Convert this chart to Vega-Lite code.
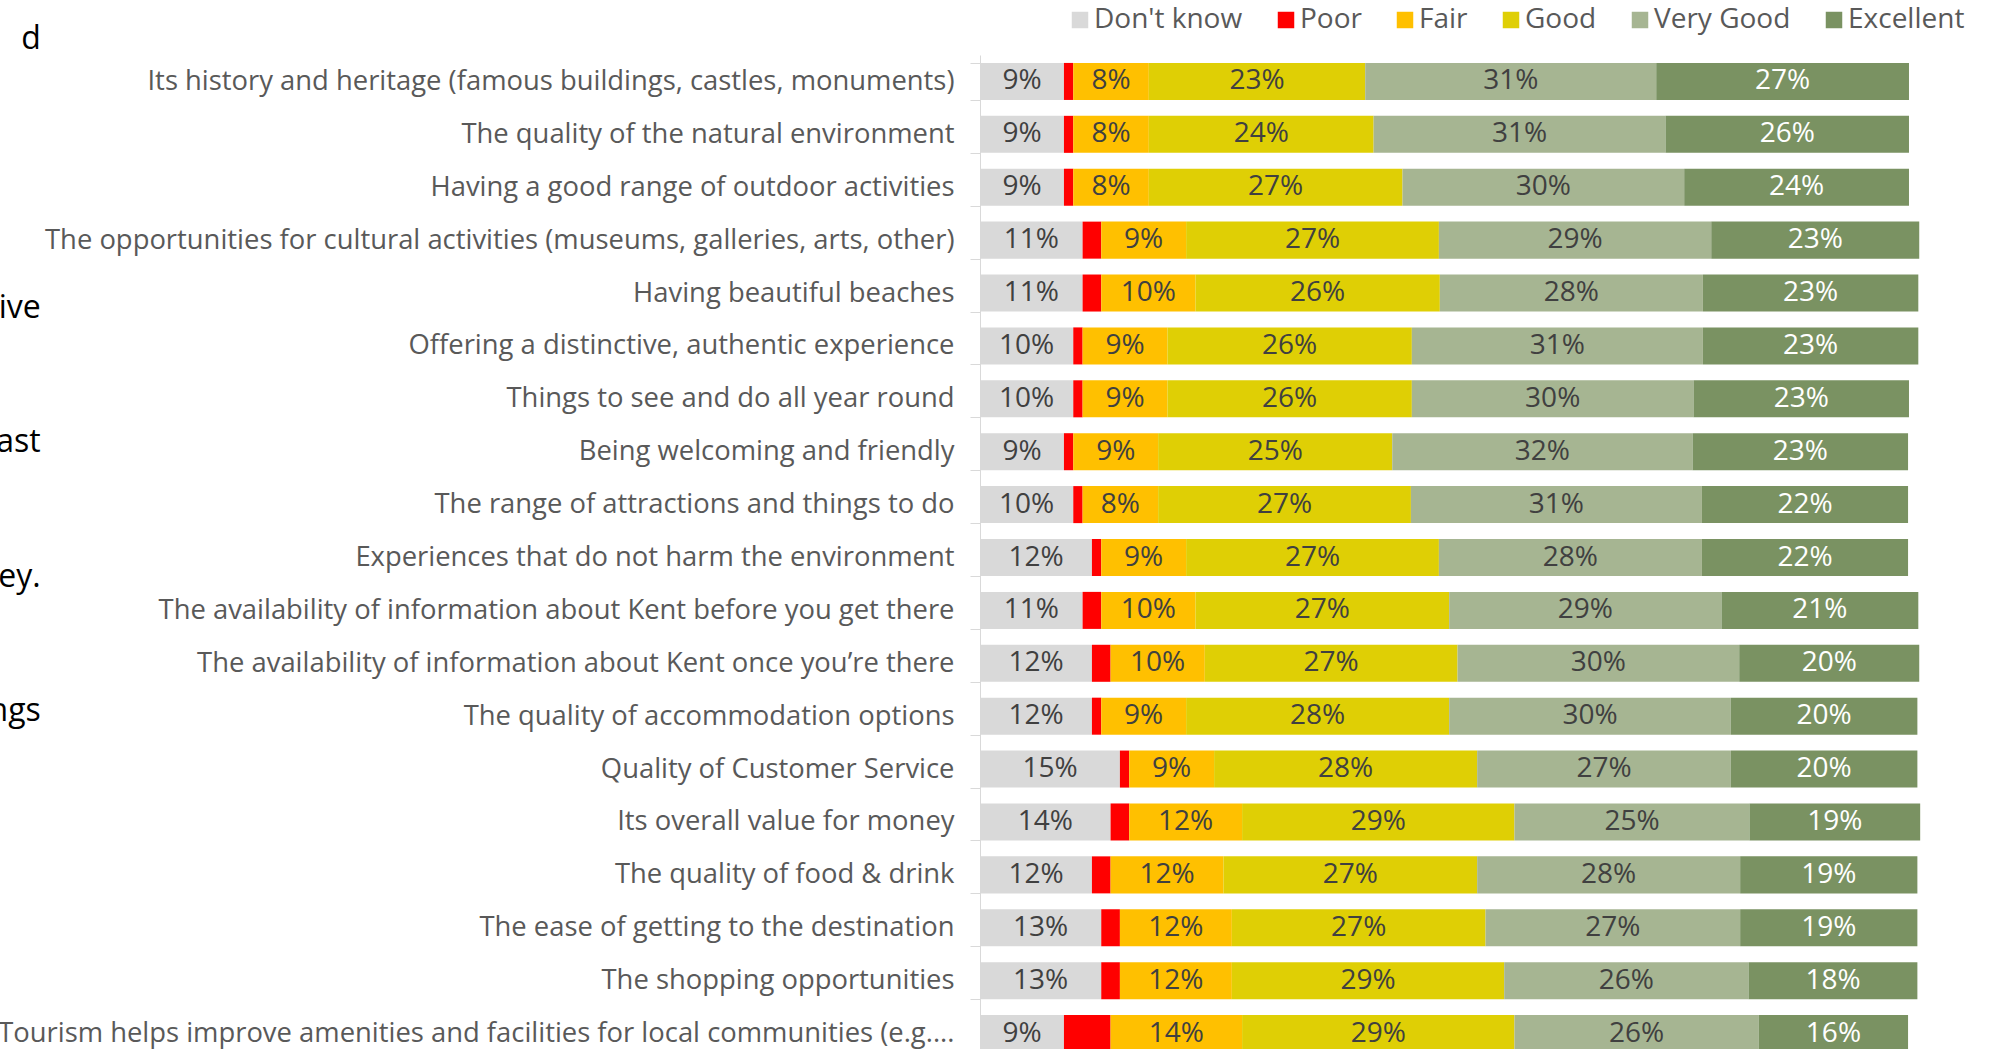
{
  "$schema": "https://vega.github.io/schema/vega-lite/v6.json",
  "width": 1012,
  "height": 1005,
  "autosize": {"type": "none"},
  "padding": {"left": 980, "top": 55, "right": 0, "bottom": 0},
  "background": "white",
  "config": {"view": {"stroke": null}, "font": "Open Sans"},
  "datasets": {
    "main": [
      {"c": "Its history and heritage (famous buildings, castles, monuments)", "r": "Don't know", "v": 9.0, "l": "9%"},
      {"c": "Its history and heritage (famous buildings, castles, monuments)", "r": "Poor", "v": 1.0, "l": "1%"},
      {"c": "Its history and heritage (famous buildings, castles, monuments)", "r": "Fair", "v": 8.1, "l": "8%"},
      {"c": "Its history and heritage (famous buildings, castles, monuments)", "r": "Good", "v": 23.2, "l": "23%"},
      {"c": "Its history and heritage (famous buildings, castles, monuments)", "r": "Very Good", "v": 31.2, "l": "31%"},
      {"c": "Its history and heritage (famous buildings, castles, monuments)", "r": "Excellent", "v": 27.1, "l": "27%"},
      {"c": "The quality of the natural environment", "r": "Don't know", "v": 9.0, "l": "9%"},
      {"c": "The quality of the natural environment", "r": "Poor", "v": 1.0, "l": "1%"},
      {"c": "The quality of the natural environment", "r": "Fair", "v": 8.1, "l": "8%"},
      {"c": "The quality of the natural environment", "r": "Good", "v": 24.1, "l": "24%"},
      {"c": "The quality of the natural environment", "r": "Very Good", "v": 31.3, "l": "31%"},
      {"c": "The quality of the natural environment", "r": "Excellent", "v": 26.1, "l": "26%"},
      {"c": "Having a good range of outdoor activities", "r": "Don't know", "v": 9.0, "l": "9%"},
      {"c": "Having a good range of outdoor activities", "r": "Poor", "v": 1.0, "l": "1%"},
      {"c": "Having a good range of outdoor activities", "r": "Fair", "v": 8.1, "l": "8%"},
      {"c": "Having a good range of outdoor activities", "r": "Good", "v": 27.2, "l": "27%"},
      {"c": "Having a good range of outdoor activities", "r": "Very Good", "v": 30.2, "l": "30%"},
      {"c": "Having a good range of outdoor activities", "r": "Excellent", "v": 24.1, "l": "24%"},
      {"c": "The opportunities for cultural activities (museums, galleries, arts, other)", "r": "Don't know", "v": 11.0, "l": "11%"},
      {"c": "The opportunities for cultural activities (museums, galleries, arts, other)", "r": "Poor", "v": 2.0, "l": "2%"},
      {"c": "The opportunities for cultural activities (museums, galleries, arts, other)", "r": "Fair", "v": 9.1, "l": "9%"},
      {"c": "The opportunities for cultural activities (museums, galleries, arts, other)", "r": "Good", "v": 27.1, "l": "27%"},
      {"c": "The opportunities for cultural activities (museums, galleries, arts, other)", "r": "Very Good", "v": 29.2, "l": "29%"},
      {"c": "The opportunities for cultural activities (museums, galleries, arts, other)", "r": "Excellent", "v": 22.3, "l": "23%"},
      {"c": "Having beautiful beaches", "r": "Don't know", "v": 11.0, "l": "11%"},
      {"c": "Having beautiful beaches", "r": "Poor", "v": 2.0, "l": "2%"},
      {"c": "Having beautiful beaches", "r": "Fair", "v": 10.1, "l": "10%"},
      {"c": "Having beautiful beaches", "r": "Good", "v": 26.2, "l": "26%"},
      {"c": "Having beautiful beaches", "r": "Very Good", "v": 28.2, "l": "28%"},
      {"c": "Having beautiful beaches", "r": "Excellent", "v": 23.1, "l": "23%"},
      {"c": "Offering a distinctive, authentic experience", "r": "Don't know", "v": 10.0, "l": "10%"},
      {"c": "Offering a distinctive, authentic experience", "r": "Poor", "v": 1.0, "l": "1%"},
      {"c": "Offering a distinctive, authentic experience", "r": "Fair", "v": 9.1, "l": "9%"},
      {"c": "Offering a distinctive, authentic experience", "r": "Good", "v": 26.2, "l": "26%"},
      {"c": "Offering a distinctive, authentic experience", "r": "Very Good", "v": 31.2, "l": "31%"},
      {"c": "Offering a distinctive, authentic experience", "r": "Excellent", "v": 23.1, "l": "23%"},
      {"c": "Things to see and do all year round", "r": "Don't know", "v": 10.0, "l": "10%"},
      {"c": "Things to see and do all year round", "r": "Poor", "v": 1.0, "l": "1%"},
      {"c": "Things to see and do all year round", "r": "Fair", "v": 9.1, "l": "9%"},
      {"c": "Things to see and do all year round", "r": "Good", "v": 26.2, "l": "26%"},
      {"c": "Things to see and do all year round", "r": "Very Good", "v": 30.2, "l": "30%"},
      {"c": "Things to see and do all year round", "r": "Excellent", "v": 23.1, "l": "23%"},
      {"c": "Being welcoming and friendly", "r": "Don't know", "v": 9.0, "l": "9%"},
      {"c": "Being welcoming and friendly", "r": "Poor", "v": 1.0, "l": "1%"},
      {"c": "Being welcoming and friendly", "r": "Fair", "v": 9.1, "l": "9%"},
      {"c": "Being welcoming and friendly", "r": "Good", "v": 25.1, "l": "25%"},
      {"c": "Being welcoming and friendly", "r": "Very Good", "v": 32.2, "l": "32%"},
      {"c": "Being welcoming and friendly", "r": "Excellent", "v": 23.1, "l": "23%"},
      {"c": "The range of attractions and things to do", "r": "Don't know", "v": 10.0, "l": "10%"},
      {"c": "The range of attractions and things to do", "r": "Poor", "v": 1.0, "l": "1%"},
      {"c": "The range of attractions and things to do", "r": "Fair", "v": 8.1, "l": "8%"},
      {"c": "The range of attractions and things to do", "r": "Good", "v": 27.1, "l": "27%"},
      {"c": "The range of attractions and things to do", "r": "Very Good", "v": 31.2, "l": "31%"},
      {"c": "The range of attractions and things to do", "r": "Excellent", "v": 22.1, "l": "22%"},
      {"c": "Experiences that do not harm the environment", "r": "Don't know", "v": 12.0, "l": "12%"},
      {"c": "Experiences that do not harm the environment", "r": "Poor", "v": 1.0, "l": "1%"},
      {"c": "Experiences that do not harm the environment", "r": "Fair", "v": 9.1, "l": "9%"},
      {"c": "Experiences that do not harm the environment", "r": "Good", "v": 27.1, "l": "27%"},
      {"c": "Experiences that do not harm the environment", "r": "Very Good", "v": 28.2, "l": "28%"},
      {"c": "Experiences that do not harm the environment", "r": "Excellent", "v": 22.1, "l": "22%"},
      {"c": "The availability of information about Kent before you get there", "r": "Don't know", "v": 11.0, "l": "11%"},
      {"c": "The availability of information about Kent before you get there", "r": "Poor", "v": 2.0, "l": "2%"},
      {"c": "The availability of information about Kent before you get there", "r": "Fair", "v": 10.1, "l": "10%"},
      {"c": "The availability of information about Kent before you get there", "r": "Good", "v": 27.2, "l": "27%"},
      {"c": "The availability of information about Kent before you get there", "r": "Very Good", "v": 29.2, "l": "29%"},
      {"c": "The availability of information about Kent before you get there", "r": "Excellent", "v": 21.1, "l": "21%"},
      {"c": "The availability of information about Kent once you’re there", "r": "Don't know", "v": 12.0, "l": "12%"},
      {"c": "The availability of information about Kent once you’re there", "r": "Poor", "v": 2.0, "l": "2%"},
      {"c": "The availability of information about Kent once you’re there", "r": "Fair", "v": 10.1, "l": "10%"},
      {"c": "The availability of information about Kent once you’re there", "r": "Good", "v": 27.1, "l": "27%"},
      {"c": "The availability of information about Kent once you’re there", "r": "Very Good", "v": 30.2, "l": "30%"},
      {"c": "The availability of information about Kent once you’re there", "r": "Excellent", "v": 19.3, "l": "20%"},
      {"c": "The quality of accommodation options", "r": "Don't know", "v": 12.0, "l": "12%"},
      {"c": "The quality of accommodation options", "r": "Poor", "v": 1.0, "l": "1%"},
      {"c": "The quality of accommodation options", "r": "Fair", "v": 9.1, "l": "9%"},
      {"c": "The quality of accommodation options", "r": "Good", "v": 28.2, "l": "28%"},
      {"c": "The quality of accommodation options", "r": "Very Good", "v": 30.2, "l": "30%"},
      {"c": "The quality of accommodation options", "r": "Excellent", "v": 20.0, "l": "20%"},
      {"c": "Quality of Customer Service", "r": "Don't know", "v": 15.0, "l": "15%"},
      {"c": "Quality of Customer Service", "r": "Poor", "v": 1.0, "l": "1%"},
      {"c": "Quality of Customer Service", "r": "Fair", "v": 9.1, "l": "9%"},
      {"c": "Quality of Customer Service", "r": "Good", "v": 28.2, "l": "28%"},
      {"c": "Quality of Customer Service", "r": "Very Good", "v": 27.2, "l": "27%"},
      {"c": "Quality of Customer Service", "r": "Excellent", "v": 20.0, "l": "20%"},
      {"c": "Its overall value for money", "r": "Don't know", "v": 14.0, "l": "14%"},
      {"c": "Its overall value for money", "r": "Poor", "v": 2.0, "l": "2%"},
      {"c": "Its overall value for money", "r": "Fair", "v": 12.1, "l": "12%"},
      {"c": "Its overall value for money", "r": "Good", "v": 29.2, "l": "29%"},
      {"c": "Its overall value for money", "r": "Very Good", "v": 25.2, "l": "25%"},
      {"c": "Its overall value for money", "r": "Excellent", "v": 18.3, "l": "19%"},
      {"c": "The quality of food & drink", "r": "Don't know", "v": 12.0, "l": "12%"},
      {"c": "The quality of food & drink", "r": "Poor", "v": 2.0, "l": "2%"},
      {"c": "The quality of food & drink", "r": "Fair", "v": 12.1, "l": "12%"},
      {"c": "The quality of food & drink", "r": "Good", "v": 27.2, "l": "27%"},
      {"c": "The quality of food & drink", "r": "Very Good", "v": 28.2, "l": "28%"},
      {"c": "The quality of food & drink", "r": "Excellent", "v": 19.0, "l": "19%"},
      {"c": "The ease of getting to the destination", "r": "Don't know", "v": 13.0, "l": "13%"},
      {"c": "The ease of getting to the destination", "r": "Poor", "v": 2.0, "l": "2%"},
      {"c": "The ease of getting to the destination", "r": "Fair", "v": 12.0, "l": "12%"},
      {"c": "The ease of getting to the destination", "r": "Good", "v": 27.2, "l": "27%"},
      {"c": "The ease of getting to the destination", "r": "Very Good", "v": 27.3, "l": "27%"},
      {"c": "The ease of getting to the destination", "r": "Excellent", "v": 19.0, "l": "19%"},
      {"c": "The shopping opportunities", "r": "Don't know", "v": 13.0, "l": "13%"},
      {"c": "The shopping opportunities", "r": "Poor", "v": 2.0, "l": "2%"},
      {"c": "The shopping opportunities", "r": "Fair", "v": 12.0, "l": "12%"},
      {"c": "The shopping opportunities", "r": "Good", "v": 29.2, "l": "29%"},
      {"c": "The shopping opportunities", "r": "Very Good", "v": 26.2, "l": "26%"},
      {"c": "The shopping opportunities", "r": "Excellent", "v": 18.1, "l": "18%"},
      {"c": "Tourism helps improve amenities and facilities for local communities (e.g....", "r": "Don't know", "v": 9.0, "l": "9%"},
      {"c": "Tourism helps improve amenities and facilities for local communities (e.g....", "r": "Poor", "v": 5.0, "l": "5%"},
      {"c": "Tourism helps improve amenities and facilities for local communities (e.g....", "r": "Fair", "v": 14.1, "l": "14%"},
      {"c": "Tourism helps improve amenities and facilities for local communities (e.g....", "r": "Good", "v": 29.2, "l": "29%"},
      {"c": "Tourism helps improve amenities and facilities for local communities (e.g....", "r": "Very Good", "v": 26.2, "l": "26%"},
      {"c": "Tourism helps improve amenities and facilities for local communities (e.g....", "r": "Excellent", "v": 16.0, "l": "16%"}
    ],
    "frags": [
      {"frag": "d", "line": 0},
      {"frag": "ive", "line": 2},
      {"frag": "ast", "line": 3},
      {"frag": "ey.", "line": 4},
      {"frag": "ngs", "line": 5}
    ]
  },
  "resolve": {"scale": {"y": "independent"}},
  "layer": [
    {
      "data": {"name": "main"},
      "transform": [
        {"window": [{"op": "row_number", "as": "ord"}]},
        {"stack": "v", "groupby": ["c"], "sort": [{"field": "ord", "order": "ascending"}], "as": ["x0", "x1"]}
      ],
      "mark": {"type": "bar"},
      "encoding": {
        "y": {
          "field": "c", "type": "nominal", "sort": null,
          "scale": {"paddingInner": 0.3, "paddingOuter": 0.15},
          "axis": {
            "title": null,
            "domainColor": "#d9d9d9",
            "tickColor": "#d9d9d9",
            "tickSize": 10,
            "tickBand": "extent",
            "labelFont": "Open Sans",
            "labelFontSize": 27.4,
            "labelColor": "#595959",
            "labelLimit": 0,
            "labelPadding": 16
          }
        },
        "x": {"field": "x0", "type": "quantitative", "scale": {"domain": [0, 108.5], "nice": false, "zero": false}, "axis": null},
        "x2": {"field": "x1"},
        "color": {
          "field": "r", "type": "nominal",
          "scale": {
            "domain": ["Don't know", "Poor", "Fair", "Good", "Very Good", "Excellent"],
            "range": ["#d9d9d9", "#ff0000", "#ffc000", "#dfcf05", "#a6b592", "#7a9262"]
          },
          "legend": {
            "title": null,
            "orient": "none",
            "legendX": 86,
            "legendY": -49,
            "direction": "horizontal",
            "symbolType": "square",
            "symbolSize": 272,
            "symbolStrokeWidth": 0,
            "labelFont": "Open Sans",
            "labelFontSize": 28,
            "labelColor": "#595959",
            "labelOffset": 0,
            "columnPadding": 29
          }
        }
      }
    },
    {
      "data": {"name": "main"},
      "transform": [
        {"window": [{"op": "row_number", "as": "ord"}]},
        {"stack": "v", "groupby": ["c"], "sort": [{"field": "ord", "order": "ascending"}], "as": ["x0", "x1"]},
        {"calculate": "(datum.x0 + datum.x1) / 2", "as": "mid"},
        {"filter": "datum.r !== 'Poor'"}
      ],
      "mark": {"type": "text", "font": "Open Sans", "fontSize": 28, "baseline": "middle", "align": "center"},
      "encoding": {
        "y": {"field": "c", "type": "nominal", "sort": null, "scale": {"paddingInner": 0.3, "paddingOuter": 0.15}, "axis": null},
        "x": {"field": "mid", "type": "quantitative"},
        "text": {"field": "l"},
        "color": {"condition": {"test": "datum.r === 'Excellent'", "value": "#ffffff"}, "value": "#404040"}
      }
    },
    {
      "data": {"name": "frags"},
      "mark": {"type": "text", "font": "Open Sans", "fontSize": 32, "align": "right", "baseline": "middle", "color": "#000000"},
      "encoding": {
        "x": {"datum": -100.7, "type": "quantitative"},
        "y": {"field": "line", "type": "quantitative", "scale": {"domain": [0.122, 7.594], "reverse": true, "zero": false, "nice": false}, "axis": null},
        "text": {"field": "frag"}
      }
    }
  ]
}
